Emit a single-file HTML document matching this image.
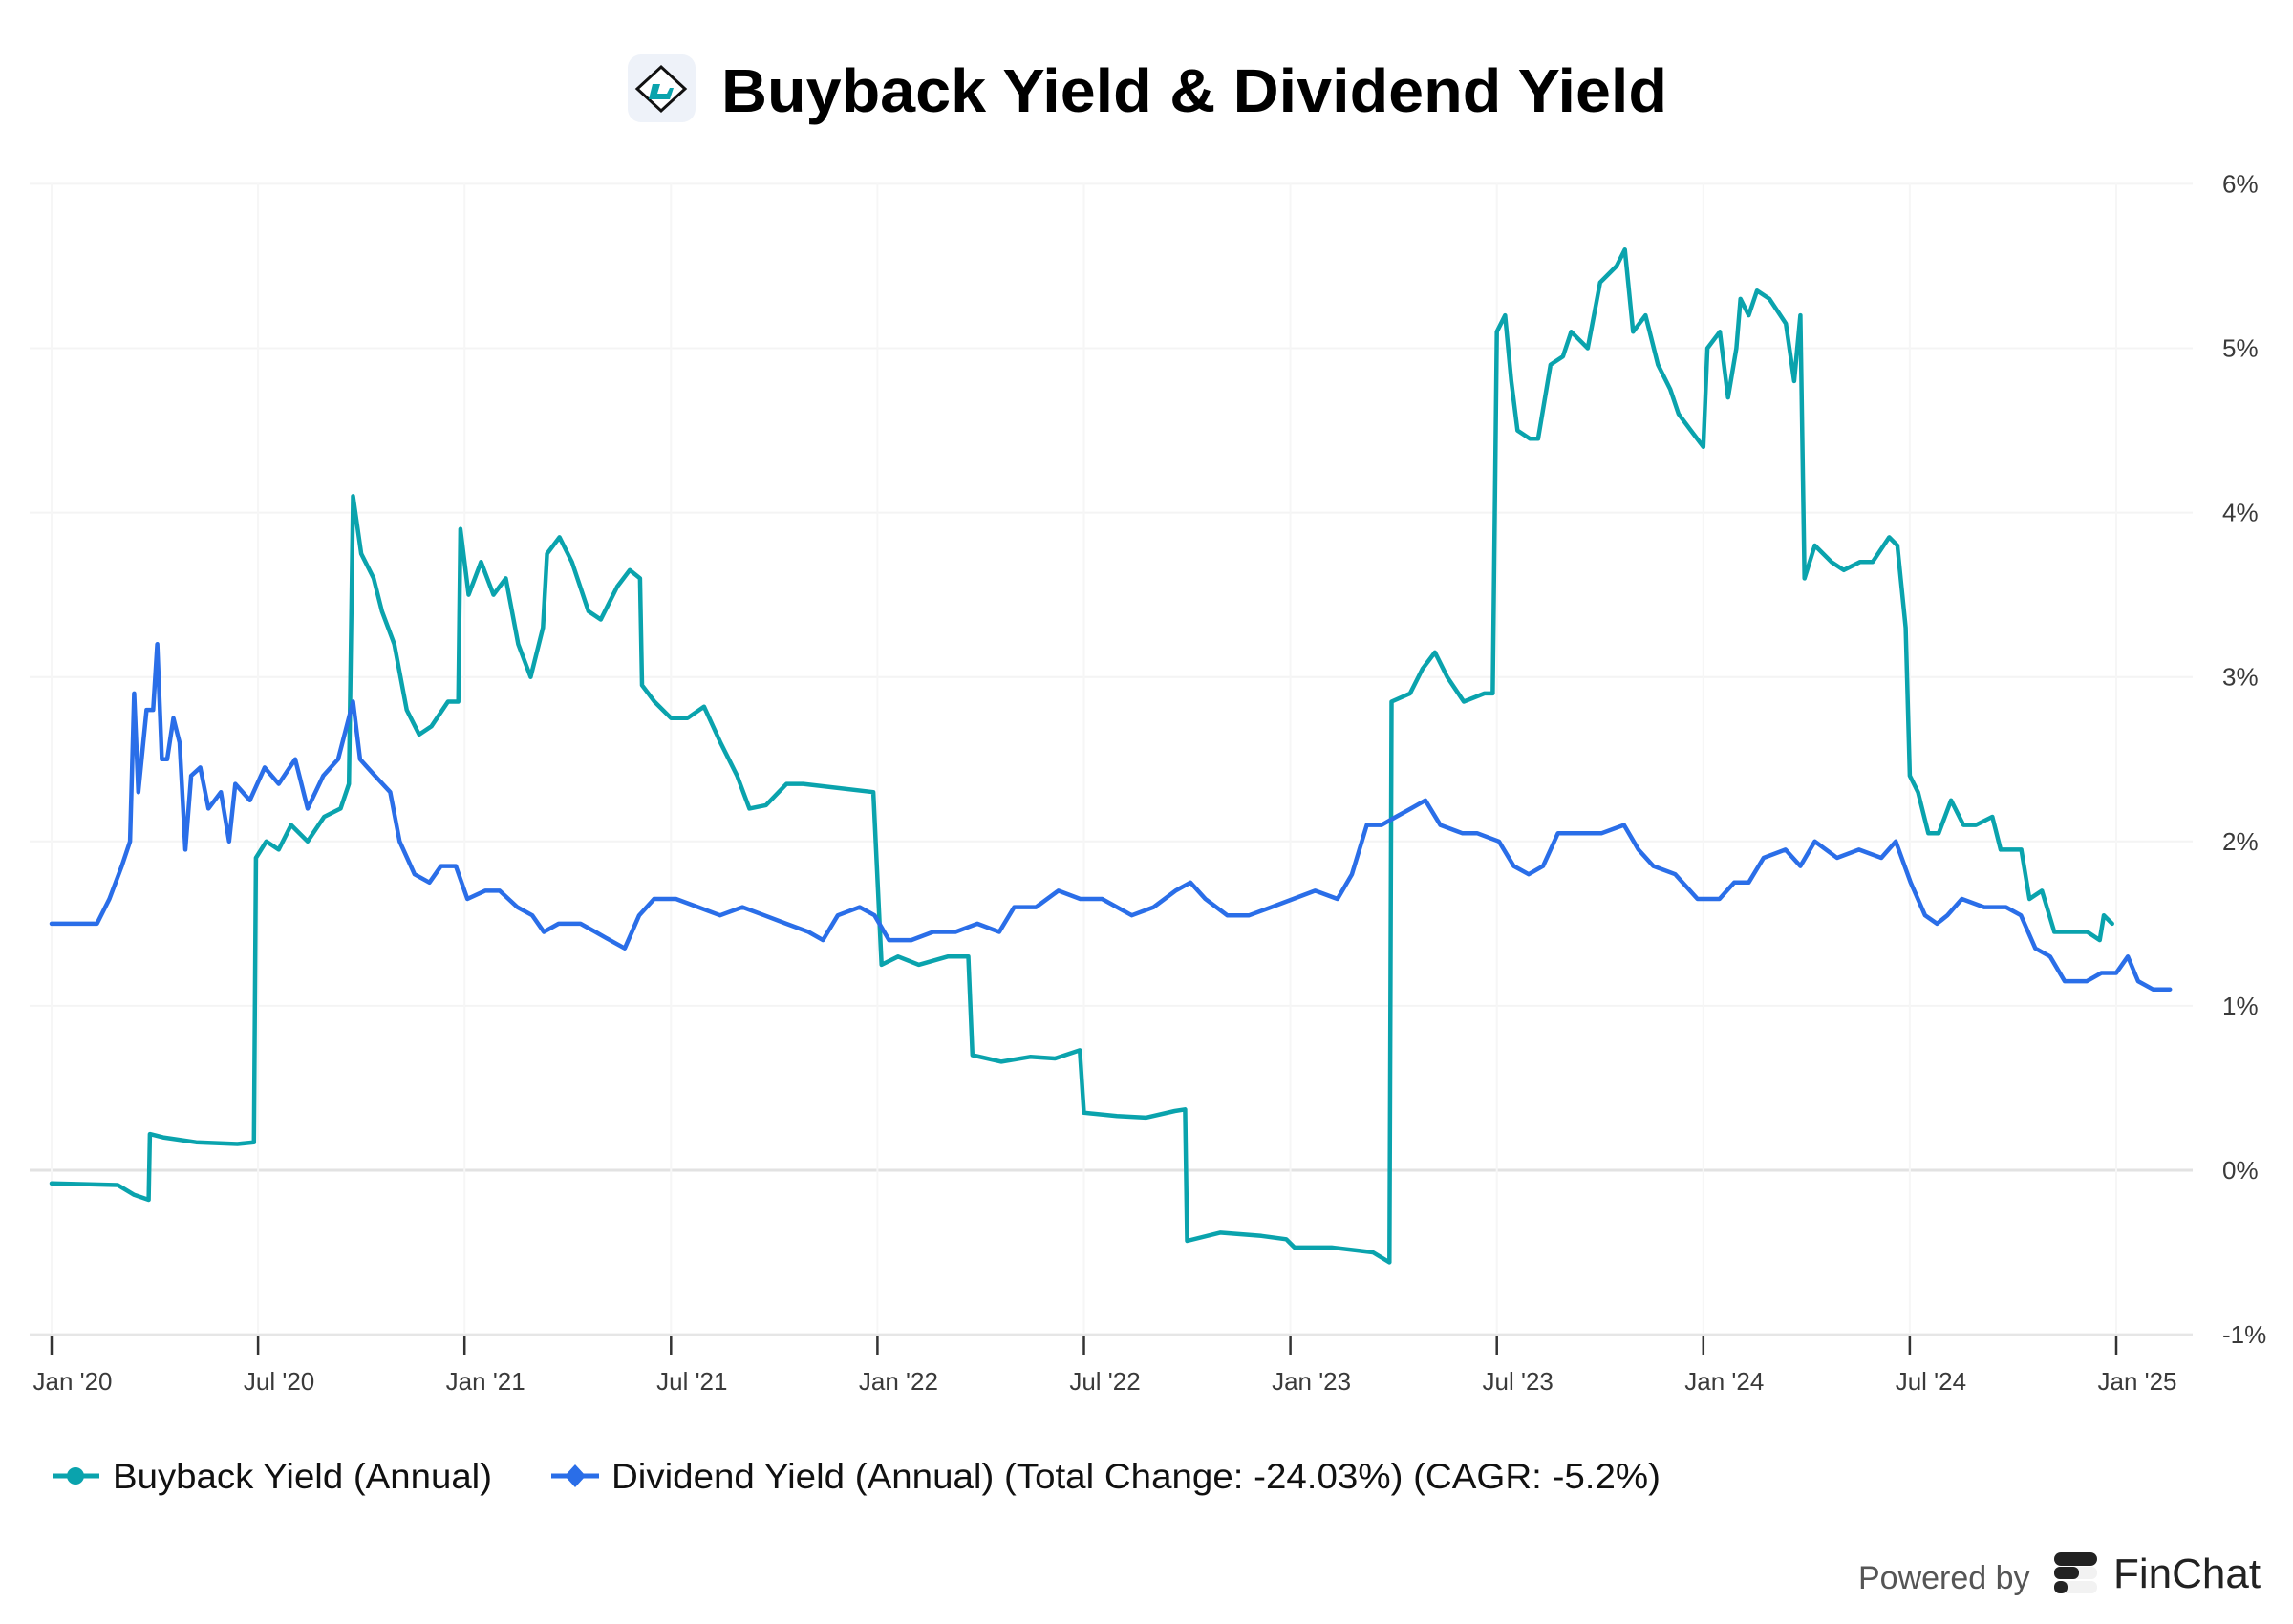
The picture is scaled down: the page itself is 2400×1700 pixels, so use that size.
<!DOCTYPE html>
<html><head><meta charset="utf-8">
<style>
html,body{margin:0;padding:0;background:#fff;}
svg{display:block;}
text{font-family:"Liberation Sans",sans-serif;}
</style></head>
<body>
<svg id="chart" width="2400" height="1700" viewBox="0 0 2400 1700" xmlns="http://www.w3.org/2000/svg">
  <g>
    <rect x="657" y="57" width="71" height="71" rx="14" fill="#eef2f9"/>
    <polygon points="692,70 717,93 692,116 667,93" fill="#fff" stroke="#111" stroke-width="3"/>
    <path d="M683,88 h8 l-3,10 h10 l3,-6 h4 l-4,12 h-22 z" fill="#0aa3ad"/>
    <text x="755" y="117" font-size="64" font-weight="bold" fill="#000" textLength="990" lengthAdjust="spacingAndGlyphs">Buyback Yield &amp; Dividend Yield</text>
  </g>
  <g id="grid"></g>
  <g id="axes"></g>
  <g id="series"></g>
  <g>
    <g>
      <line x1="55" y1="1545" x2="104" y2="1545" stroke="#0aa3ad" stroke-width="5"/>
      <circle cx="79" cy="1545" r="9" fill="#0aa3ad"/>
      <text x="118" y="1558" font-size="37" fill="#111" textLength="397" lengthAdjust="spacingAndGlyphs">Buyback Yield (Annual)</text>
    </g>
    <g>
      <line x1="577" y1="1545" x2="627" y2="1545" stroke="#2a6ee8" stroke-width="5"/>
      <polygon points="602,1533 613,1545 602,1557 591,1545" fill="#2a6ee8"/>
      <text x="640" y="1558" font-size="37" fill="#111" textLength="1098" lengthAdjust="spacingAndGlyphs">Dividend Yield (Annual) (Total Change: -24.03%) (CAGR: -5.2%)</text>
    </g>
  </g>
  <g>
    <text x="1945" y="1663" font-size="34" fill="#555">Powered by</text>
    <rect x="2150" y="1625" width="45" height="14" rx="7" fill="#222"/>
    <rect x="2150" y="1640" width="45" height="13" rx="6" fill="#f2f2f2"/>
    <rect x="2150" y="1640" width="26" height="13" rx="6" fill="#222"/>
    <rect x="2150" y="1655" width="45" height="13" rx="6" fill="#f2f2f2"/>
    <rect x="2150" y="1655" width="14" height="13" rx="6" fill="#222"/>
    <text x="2212" y="1662" font-size="44" fill="#222">FinChat</text>
  </g>
</svg>
<script>
const yTickValues = [-1,0,1,2,3,4,5,6];
const yTickLabels = ["-1%","0%","1%","2%","3%","4%","5%","6%"];
const xTickValues = [0,0.5,1,1.5,2,2.5,3,3.5,4,4.5,5];
const xTickLabels = ["Jan '20","Jul '20","Jan '21","Jul '21","Jan '22","Jul '22","Jan '23","Jul '23","Jan '24","Jul '24","Jan '25"];
// years since Jan 2020
const buybackT = [0,0.16,0.2,0.235,0.238,0.27,0.35,0.45,0.49,0.495,0.52,0.55,0.58,0.62,0.66,0.7,0.72,0.73,0.75,0.78,0.8,0.83,0.86,0.89,0.92,0.96,0.985,0.99,1.01,1.04,1.07,1.1,1.13,1.16,1.19,1.2,1.23,1.26,1.3,1.33,1.37,1.4,1.425,1.43,1.46,1.5,1.54,1.58,1.62,1.66,1.69,1.73,1.78,1.82,1.99,2.01,2.05,2.1,2.17,2.22,2.23,2.3,2.37,2.43,2.49,2.5,2.58,2.65,2.72,2.745,2.75,2.83,2.93,2.99,3.01,3.1,3.2,3.24,3.245,3.29,3.32,3.35,3.38,3.42,3.47,3.49,3.5,3.52,3.535,3.55,3.58,3.6,3.63,3.66,3.68,3.72,3.75,3.77,3.79,3.81,3.83,3.86,3.89,3.92,3.94,3.97,4.0,4.01,4.04,4.06,4.08,4.09,4.11,4.13,4.16,4.2,4.22,4.235,4.245,4.27,4.31,4.34,4.38,4.41,4.45,4.47,4.49,4.5,4.52,4.545,4.57,4.6,4.63,4.66,4.7,4.72,4.77,4.79,4.82,4.85,4.9,4.93,4.96,4.97,4.99];
const buybackV = [-0.08,-0.09,-0.15,-0.18,0.22,0.2,0.17,0.16,0.17,1.9,2.0,1.95,2.1,2.0,2.15,2.2,2.35,4.1,3.75,3.6,3.4,3.2,2.8,2.65,2.7,2.85,2.85,3.9,3.5,3.7,3.5,3.6,3.2,3.0,3.3,3.75,3.85,3.7,3.4,3.35,3.55,3.65,3.6,2.95,2.85,2.75,2.75,2.82,2.6,2.4,2.2,2.22,2.35,2.35,2.3,1.25,1.3,1.25,1.3,1.3,0.7,0.66,0.69,0.68,0.73,0.35,0.33,0.32,0.36,0.37,-0.43,-0.38,-0.4,-0.42,-0.47,-0.47,-0.5,-0.56,2.85,2.9,3.05,3.15,3.0,2.85,2.9,2.9,5.1,5.2,4.8,4.5,4.45,4.45,4.9,4.95,5.1,5.0,5.4,5.45,5.5,5.6,5.1,5.2,4.9,4.75,4.6,4.5,4.4,5.0,5.1,4.7,5.0,5.3,5.2,5.35,5.3,5.15,4.8,5.2,3.6,3.8,3.7,3.65,3.7,3.7,3.85,3.8,3.3,2.4,2.3,2.05,2.05,2.25,2.1,2.1,2.15,1.95,1.95,1.65,1.7,1.45,1.45,1.45,1.4,1.55,1.5];
const dividendT = [0,0.05,0.11,0.14,0.17,0.19,0.2,0.21,0.23,0.246,0.256,0.267,0.28,0.295,0.31,0.324,0.338,0.36,0.38,0.41,0.43,0.445,0.48,0.516,0.55,0.59,0.62,0.658,0.694,0.73,0.747,0.783,0.82,0.843,0.879,0.915,0.943,0.979,1.007,1.05,1.085,1.128,1.164,1.192,1.228,1.281,1.317,1.352,1.388,1.423,1.459,1.512,1.566,1.619,1.673,1.726,1.779,1.833,1.868,1.904,1.957,1.993,2.028,2.082,2.135,2.189,2.242,2.295,2.331,2.384,2.438,2.491,2.544,2.616,2.669,2.722,2.758,2.794,2.847,2.9,2.954,3.007,3.06,3.114,3.149,3.185,3.221,3.256,3.292,3.327,3.363,3.416,3.452,3.505,3.541,3.577,3.612,3.648,3.701,3.754,3.808,3.843,3.879,3.932,3.986,4.039,4.075,4.11,4.146,4.199,4.235,4.27,4.324,4.377,4.431,4.466,4.502,4.537,4.566,4.591,4.626,4.68,4.733,4.769,4.804,4.84,4.875,4.929,4.964,5.0,5.028,5.053,5.089,5.13];
const dividendV = [1.5,1.5,1.5,1.65,1.85,2.0,2.9,2.3,2.8,2.8,3.2,2.5,2.5,2.75,2.6,1.95,2.4,2.45,2.2,2.3,2.0,2.35,2.25,2.45,2.35,2.5,2.2,2.4,2.5,2.85,2.5,2.4,2.3,2.0,1.8,1.75,1.85,1.85,1.65,1.7,1.7,1.6,1.55,1.45,1.5,1.5,1.45,1.4,1.35,1.55,1.65,1.65,1.6,1.55,1.6,1.55,1.5,1.45,1.4,1.55,1.6,1.55,1.4,1.4,1.45,1.45,1.5,1.45,1.6,1.6,1.7,1.65,1.65,1.55,1.6,1.7,1.75,1.65,1.55,1.55,1.6,1.65,1.7,1.65,1.8,2.1,2.1,2.15,2.2,2.25,2.1,2.05,2.05,2.0,1.85,1.8,1.85,2.05,2.05,2.05,2.1,1.95,1.85,1.8,1.65,1.65,1.75,1.75,1.9,1.95,1.85,2.0,1.9,1.95,1.9,2.0,1.75,1.55,1.5,1.55,1.65,1.6,1.6,1.55,1.35,1.3,1.15,1.15,1.2,1.2,1.3,1.15,1.1,1.1];

const NS = "http://www.w3.org/2000/svg";
const X0 = 54, XPY = 432.2;   // px per year
const Y0 = 1225, YPP = 172.1;  // px per percent
function xScale(t){ return X0 + t * XPY; }
function yScale(v){ return Y0 - v * YPP; }
function mk(tag, attrs, parent){
  const e = document.createElementNS(NS, tag);
  for (const k in attrs) e.setAttribute(k, attrs[k]);
  parent.appendChild(e);
  return e;
}
const grid = document.getElementById('grid');
const axes = document.getElementById('axes');
const series = document.getElementById('series');
const left = 31, right = 2295;

yTickValues.forEach((v, i) => {
  const y = yScale(v);
  const gl = mk('line', {x1:left, x2:right, y1:y, y2:y, stroke: v===0 ? '#e2e2e2' : (v===-1 ? '#e6e6e6' : '#f4f4f4'), 'stroke-width': v===0||v===-1 ? 3 : 2}, grid);
  
  
  const lb = mk('text', {x: 2326, y: y + 9, 'font-size': 26, fill: '#3a3a3a'}, axes);
  lb.textContent = yTickLabels[i];
  
  
});
xTickValues.forEach((t, i) => {
  const x = xScale(t);
  const gl = mk('line', {x1:x, x2:x, y1:192, y2:1395, stroke:'#f6f6f6', 'stroke-width':2}, grid);
  
  
  const tk = mk('line', {x1:x, x2:x, y1:1399, y2:1418, stroke:'#333', 'stroke-width':2.5}, axes);
  
  
  const lb = mk('text', {x: x + 22, y: 1455, 'font-size': 26, fill: '#3a3a3a', 'text-anchor':'middle'}, axes);
  lb.textContent = xTickLabels[i];
  
  
});
function drawLine(ts, vs, color, name){
  const pts = ts.map((t, i) => xScale(t).toFixed(1) + ',' + yScale(vs[i]).toFixed(1)).join(' ');
  const pl = mk('polyline', {points: pts, fill:'none', stroke: color, 'stroke-width': 4.5, 'stroke-linejoin':'round', 'stroke-linecap':'round'}, series);
  
  
}
drawLine(buybackT, buybackV, '#0aa3ad', 'buyback-yield-line');
drawLine(dividendT, dividendV, '#2a6ee8', 'dividend-yield-line');
</script>
</body></html>
